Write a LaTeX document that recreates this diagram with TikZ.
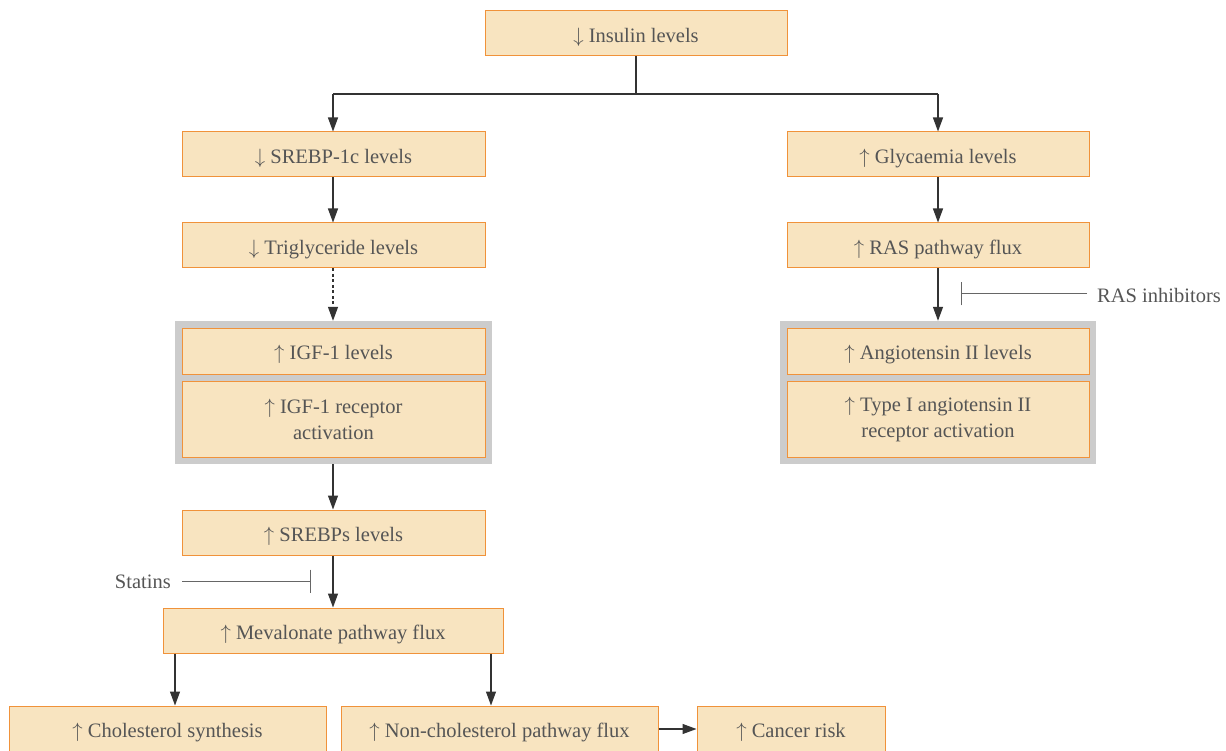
\documentclass[tikz,border=0pt]{standalone}
\usepackage{fontspec}
\setmainfont{Liberation Serif}
\usetikzlibrary{arrows.meta}
\definecolor{boxfill}{HTML}{F8E4C0}
\definecolor{boxline}{HTML}{F0923A}
\definecolor{txt}{HTML}{555555}
\definecolor{framegray}{HTML}{CCCCCC}
\definecolor{conn}{HTML}{333333}
\definecolor{inhcol}{HTML}{666666}
\newcommand{\upa}{$\uparrow$}
\newcommand{\dna}{$\downarrow$}
\begin{document}
\begin{tikzpicture}[x=1pt,y=-1pt,
  box/.style={draw=boxline, fill=boxfill, line width=1pt, text=txt,
    font=\fontsize{20.5}{26}\selectfont, align=center, inner sep=0pt,
    minimum height=45pt},
  sl/.style={box, execute at begin node={\rule{0pt}{21.5pt}}},
  grayframe/.style={fill=framegray, inner sep=0pt, minimum width=317pt, minimum height=143pt},
  arr/.style={draw=conn, line width=1.2pt, -{Triangle[length=14pt,width=10pt]}},
  plain/.style={draw=conn, line width=1.2pt},
  inh/.style={draw=inhcol, line width=1pt, -{Bar[width=23pt]}},
  lbl/.style={text=txt, font=\fontsize{20.5}{24}\selectfont, inner sep=0pt}]
\useasboundingbox (0,0) rectangle (1226,751);
\fill[white] (0,0) rectangle (1226,751);

% gray frames
\node[grayframe] (fL) at (333.5,392.5) {};
\node[grayframe, minimum width=316pt] (fR) at (938,392.5) {};

% boxes
\node[sl, minimum width=302pt] (ins) at (636,33.5) {\dna\ Insulin levels};
\node[sl, minimum width=303pt] (srebp1c) at (333.5,154.5) {\dna\ SREBP-1c levels};
\node[sl, minimum width=302pt] (gly) at (938,154.5) {\upa\ Glycaemia levels};
\node[sl, minimum width=303pt] (tri) at (333.5,245.5) {\dna\ Triglyceride levels};
\node[sl, minimum width=302pt] (ras) at (938,245.5) {\upa\ RAS pathway flux};
\node[sl, minimum width=303pt, minimum height=46pt] (igf) at (333.5,351) {\upa\ IGF-1 levels};
\node[box, minimum width=303pt, minimum height=76pt] (igfr) at (333.5,419.5) {\upa\ IGF-1 receptor\\activation};
\node[sl, minimum width=302pt, minimum height=46pt] (ang) at (938,351) {\upa\ Angiotensin II levels};
\node[box, minimum width=302pt, minimum height=76pt] (at1) at (938,419.5) {\upa\ Type I angiotensin II\\receptor activation};
\node[sl, minimum width=303pt] (srebps) at (333.5,532.5) {\upa\ SREBPs levels};
\node[sl, minimum width=340pt] (mev) at (333,630.5) {\upa\ Mevalonate pathway flux};
\node[sl, minimum width=317pt, minimum height=46pt] (chol) at (167.5,729) {\upa\ Cholesterol synthesis};
\node[sl, minimum width=317pt, minimum height=46pt] (nonchol) at (499.5,729) {\upa\ Non-cholesterol pathway flux};
\node[sl, minimum width=188pt, minimum height=46pt] (cancer) at (791,729) {\upa\ Cancer risk};

% labels
\node[lbl, anchor=east] (statins) at (171,582) {Statins};
\node[lbl, anchor=west] (rasinh) at (1097,295) {RAS inhibitors};

\coordinate (split) at (636,94);
\coordinate (splitL) at (333,94);
\coordinate (splitR) at (938,94);
\coordinate (statEnd) at (311,581);
\coordinate (statStart) at (182,581);
\coordinate (rasEnd) at (961,294);
\coordinate (rasStart) at (1087,294);

% connectors
\draw[plain] (ins.south) -- (split);
\draw[plain] (splitL) -- (splitR);
\draw[arr] (splitL) -- (srebp1c.north -| splitL);
\draw[arr] (splitR) -- (gly.north -| splitR);
\draw[arr] (srebp1c.south -| splitL) -- (tri.north -| splitL);
\draw[arr, dash pattern=on 3pt off 2.5pt] (tri.south -| splitL) -- (fL.north -| splitL);
\draw[arr] (fL.south -| splitL) -- (srebps.north -| splitL);
\draw[arr] (srebps.south -| splitL) -- (mev.north -| splitL);
\draw[arr] (gly.south -| splitR) -- (ras.north -| splitR);
\draw[arr] (ras.south -| splitR) -- (fR.north -| splitR);
\draw[arr] (mev.south -| chol.north) ++(7.5,0) coordinate (m1) -- (m1 |- chol.north);
\draw[arr] (mev.south -| nonchol.north) ++(-8.5,0) coordinate (m2) -- (m2 |- nonchol.north);
\draw[arr] (nonchol.east) -- (cancer.west);

\draw[inh] (statStart) -- (statEnd);
\draw[inh] (rasStart) -- (rasEnd);
\end{tikzpicture}
\end{document}
